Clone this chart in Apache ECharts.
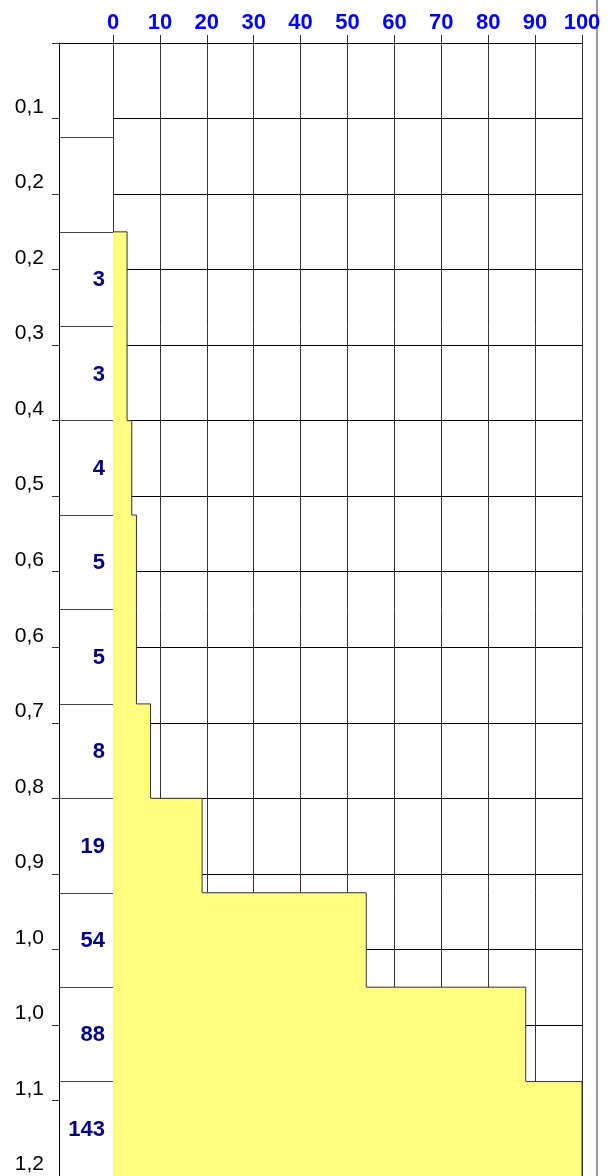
<!DOCTYPE html>
<html>
<head>
<meta charset="utf-8">
<script src="https://cdn.jsdelivr.net/npm/echarts@6/dist/echarts.min.js"></script>
<style>
  html, body { margin: 0; padding: 0; background: #fff; }
  #chart { width: 613px; height: 1176px; }
</style>
</head>
<body>
<div id="chart"></div>
<script>
// Class bounds (top to bottom) and the count in each class
const bandStart = [0.2, 0.3, 0.4, 0.5, 0.6, 0.7, 0.8, 0.9, 1.0, 1.1];
const bandEnd   = [0.3, 0.4, 0.5, 0.6, 0.7, 0.8, 0.9, 1.0, 1.1, 1.2];
const counts    = [3, 3, 4, 5, 5, 8, 19, 54, 88, 143];

// Axis ticks
const xTicks = [0, 10, 20, 30, 40, 50, 60, 70, 80, 90, 100];
const yTickLabels = ['', '0,1', '0,2', '0,2', '0,3', '0,4', '0,5', '0,6', '0,6',
                     '0,7', '0,8', '0,9', '1,0', '1,0', '1,1', '1,2'];
const yStep = 0.08;

const FONT = "'Liberation Sans', Arial, sans-serif";

// Each item: start, end, count, count of the class above
const stepData = counts.map((c, i) => [bandStart[i], bandEnd[i], c, i === 0 ? 0 : counts[i - 1]]);
const labelData = counts.map((c, i) => [(bandStart[i] + bandEnd[i]) / 2, c]);

const chart = echarts.init(document.getElementById('chart'), null, { renderer: 'canvas' });

chart.setOption({
  animation: false,
  backgroundColor: '#ffffff',
  grid: [
    { left: 59, top: 43, width: 54, height: 1133 },   // count column
    { left: 113, top: 43, width: 469, height: 1133 }  // main plot
  ],
  xAxis: [
    {
      gridIndex: 0, type: 'value', min: 0, max: 1, position: 'top',
      axisLine: { show: true, lineStyle: { color: '#000', width: 1 } },
      axisTick: { show: false }, axisLabel: { show: false }, splitLine: { show: false }
    },
    {
      gridIndex: 1, type: 'value', min: 0, max: 100, interval: 10, position: 'top',
      axisLine: { show: true, lineStyle: { color: '#000', width: 1 } },
      axisTick: { show: true, inside: false, length: 8, lineStyle: { color: '#333', width: 1 } },
      axisLabel: {
        show: true, margin: 9, color: '#0000ff', fontWeight: 'bold', fontSize: 22, fontFamily: FONT,
        formatter: v => String(xTicks[Math.round(v / 10)])
      },
      splitLine: { show: true, lineStyle: { color: '#333', width: 1 } }
    }
  ],
  yAxis: [
    {
      // labelled axis on the left of the count column
      gridIndex: 0, type: 'value', inverse: true, min: 0, max: 1.2, interval: yStep,
      axisLine: { show: true, lineStyle: { color: '#000', width: 1 } },
      axisTick: { show: true, inside: false, length: 7, lineStyle: { color: '#333', width: 1 } },
      axisLabel: {
        show: true, margin: 15, color: '#000', fontSize: 21, fontFamily: FONT,
        verticalAlign: 'bottom', lineHeight: 23,
        formatter: v => yTickLabels[Math.round(v / yStep)]
      },
      splitLine: { show: false }
    },
    {
      // class boundaries inside the count column
      gridIndex: 0, type: 'value', inverse: true, min: 0, max: 1.2, interval: 0.1,
      axisLine: { show: false }, axisTick: { show: false }, axisLabel: { show: false },
      splitLine: { show: true, lineStyle: { color: '#444', width: 1 } }
    },
    {
      gridIndex: 1, type: 'value', inverse: true, min: 0, max: 1.2, interval: yStep,
      axisLine: { show: true, lineStyle: { color: '#333', width: 1 } },
      axisTick: { show: false }, axisLabel: { show: false },
      splitLine: { show: true, lineStyle: { color: '#000', width: 1 } }
    }
  ],
  series: [
    {
      // stepped area: one filled rectangle per class plus its outline
      type: 'custom',
      xAxisIndex: 1, yAxisIndex: 2,
      clip: true,
      data: stepData,
      renderItem: function (params, api) {
        const cs = params.coordSys;
        const xMax = cs.x + cs.width;
        const y0 = api.value(0), y1 = api.value(1), v = api.value(2), prev = api.value(3);
        const pTop = api.coord([0, y0]);
        const pBot = api.coord([v, y1]);
        const pPrev = api.coord([prev, y0]);
        const xr = Math.min(pBot[0], xMax);
        const xp = Math.min(pPrev[0], xMax);
        return {
          type: 'group',
          children: [
            {
              // extended by a pixel so neighbouring classes join without a seam
              type: 'rect',
              shape: { x: pTop[0], y: pTop[1], width: xr - pTop[0], height: pBot[1] - pTop[1] + 1 },
              style: { fill: '#ffff80', stroke: null }
            },
            {
              type: 'polyline',
              shape: { points: [[xp, pTop[1]], [xr, pTop[1]], [xr, pBot[1]]] },
              style: { stroke: '#333', lineWidth: 1, fill: null }
            }
          ]
        };
      }
    },
    {
      // class counts written in the left column
      type: 'custom',
      xAxisIndex: 0, yAxisIndex: 0,
      data: labelData,
      renderItem: function (params, api) {
        const p = api.coord([1, api.value(0)]);
        return {
          type: 'text',
          style: {
            x: p[0] - 8, y: p[1] + 1,
            text: String(api.value(1)),
            fill: '#000080', font: 'bold 22px ' + FONT,
            align: 'right', verticalAlign: 'middle'
          }
        };
      }
    }
  ],
  graphic: [
    {
      type: 'line', silent: true,
      shape: { x1: 597, y1: 0, x2: 597, y2: 1176 },
      style: { stroke: '#777', lineWidth: 1.5 }
    }
  ]
});
</script>
</body>
</html>
